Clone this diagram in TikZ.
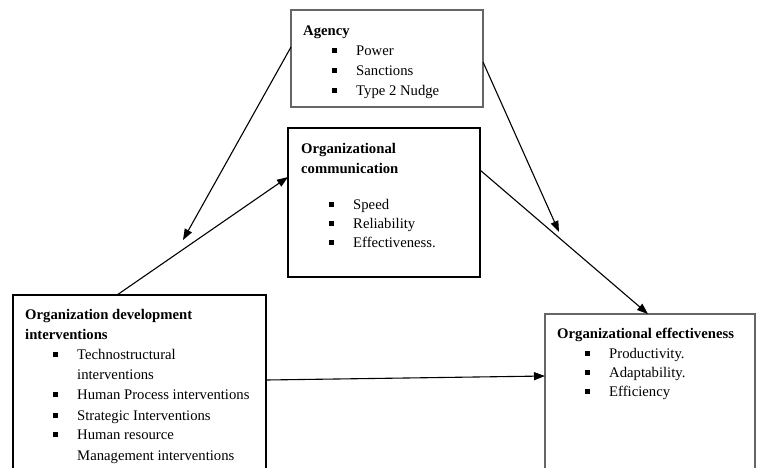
\documentclass[tikz,border=0pt]{standalone}
\usepackage{fontspec}
\setmainfont{Liberation Serif}
\usetikzlibrary{arrows.meta,calc}
\newcommand\bul{\makebox[24pt][l]{\rule[2.5pt]{5pt}{5pt}}}
\begin{document}
\begin{tikzpicture}[x=1pt,y=-1pt,
  box/.style={draw, line width=1.2pt, anchor=north west, inner sep=0pt, outer sep=0pt},
  graybox/.style={box, draw=black!60},
  ttl/.style={anchor=base west, inner sep=0pt, font=\bfseries\fontsize{14.7}{20}\selectfont},
  itm/.style={anchor=base west, inner sep=0pt, font=\fontsize{14.7}{20}\selectfont},
  arr/.style={line width=1.1pt, -{Triangle[length=11pt,width=8pt]}}]
\useasboundingbox (0,0) rectangle (759,467);
\clip (0,0) rectangle (759,467);
\fill[white] (0,0) rectangle (759,467);
% boxes
\node[graybox, minimum width=192pt, minimum height=97pt] (agency) at (291,10) {};
\node[box, line width=1.5pt, minimum width=192pt, minimum height=149pt] (comm) at (288,128) {};
\node[box, minimum width=253pt, minimum height=200pt] (od) at (13,295) {};
\node[graybox, minimum width=210pt, minimum height=200pt] (eff) at (545,314) {};
% agency text
\node[ttl] (agt) at (303,35) {Agency};
\node[itm] (ag1) at (332,55) {\bul Power};
\node[itm] (ag2) at (332,75) {\bul Sanctions};
\node[itm] (ag3) at (332,95) {\bul Type 2 Nudge};
% communication text
\node[ttl] (cmt1) at (301,153) {Organizational};
\node[ttl] (cmt2) at (301,173) {communication};
\node[itm] (cm1) at (329,209) {\bul Speed};
\node[itm] (cm2) at (329,228) {\bul Reliability};
\node[itm] (cm3) at (329,247) {\bul Effectiveness.};
% OD text
\node[ttl] (odt1) at (25,319) {Organization development};
\node[ttl] (odt2) at (25,339) {interventions};
\node[itm] (od1) at (53,359) {\bul Technostructural};
\node[itm] (od1b) at (77,379) {interventions};
\node[itm] (od2) at (53,399) {\bul Human Process interventions};
\node[itm] (od3) at (53,420) {\bul Strategic Interventions};
\node[itm] (od4) at (53,439) {\bul Human resource};
\node[itm] (od4b) at (77,460) {Management interventions};
% effectiveness text
\node[ttl] (eft) at (557,338) {Organizational effectiveness};
\node[itm] (ef1) at (585,358) {\bul Productivity.};
\node[itm] (ef2) at (585,377) {\bul Adaptability.};
\node[itm] (ef3) at (585,396) {\bul Efficiency};
% free arrow ends
\coordinate (t1) at (183,240);
\coordinate (t2) at (559,232);
% connectors
\draw[arr] ($(agency.north west)+(0,37)$) -- (t1);
\draw[arr] ($(od.north west)+(104,0)$) -- ($(comm.north west)+(0,49)$);
\draw[arr] ($(agency.north east)+(0,52)$) -- (t2);
\draw[arr] ($(comm.north east)+(0,42)$) -- ($(eff.north west)+(103,0)$);
\draw[arr] ($(od.north east)+(0,85)$) -- ($(eff.north west)+(0,62)$);
\end{tikzpicture}
\end{document}
